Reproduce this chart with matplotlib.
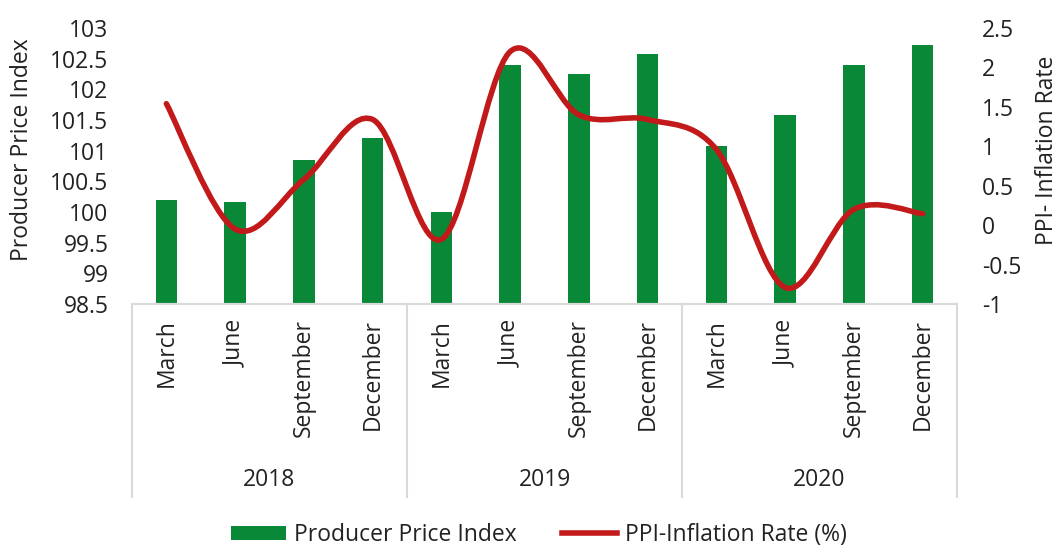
import matplotlib.pyplot as plt
from matplotlib.path import Path
from matplotlib.patches import PathPatch, Patch
from matplotlib.lines import Line2D
from matplotlib.transforms import blended_transform_factory

plt.rcParams["font.family"] = ["Open Sans", "DejaVu Sans"]

months = ["March", "June", "September", "December"] * 3
years = ["2018", "2019", "2020"]
ppi = [100.2, 100.17, 100.84, 101.2, 100.0, 102.39,
       102.25, 102.58, 101.07, 101.58, 102.4, 102.73]
inflation = [1.54, -0.05, 0.58, 1.34, -0.18, 2.2,
             1.4, 1.34, 0.96, -0.79, 0.2, 0.145]

green = "#098938"
red = "#C21A1A"
grey = "#D9D9D9"
txt = "#222222"
fs = 16.5

fig = plt.figure(figsize=(10.6, 5.45), dpi=100)
ax = fig.add_axes([132 / 1060, 1 - 304 / 545, 825 / 1060, 276 / 545])
ax2 = ax.twinx()

x = list(range(len(ppi)))
ax.bar(x, ppi, width=0.31, color=green, zorder=2)
ax.set_xlim(-0.5, len(ppi) - 0.5)
ax.set_ylim(98.5, 103)
ax.set_yticks([98.5 + 0.5 * i for i in range(10)])
ax.set_yticklabels([f"{98.5 + 0.5 * i:g}" for i in range(10)])

# smooth line like Excel (Catmull-Rom -> cubic Bezier)
pts = list(zip(x, inflation))
verts = [pts[0]]
codes = [Path.MOVETO]
n = len(pts)
for i in range(n - 1):
    p0 = pts[i - 1] if i > 0 else pts[i]
    p1 = pts[i]
    p2 = pts[i + 1]
    p3 = pts[i + 2] if i + 2 < n else pts[i + 1]
    c1 = (p1[0] + (p2[0] - p0[0]) / 6, p1[1] + (p2[1] - p0[1]) / 6)
    c2 = (p2[0] - (p3[0] - p1[0]) / 6, p2[1] - (p3[1] - p1[1]) / 6)
    verts += [c1, c2, p2]
    codes += [Path.CURVE4] * 3
ax2.add_patch(PathPatch(Path(verts, codes), facecolor="none", edgecolor=red,
                        lw=4, capstyle="round", joinstyle="round", zorder=3))
ax2.set_ylim(-1, 2.5)
ax2.set_yticks([-1 + 0.5 * i for i in range(8)])
ax2.set_yticklabels([f"{-1 + 0.5 * i:g}" for i in range(8)])

for a in (ax, ax2):
    for s in ["top", "left", "right"]:
        a.spines[s].set_visible(False)
    a.spines["bottom"].set_color(grey)
    a.spines["bottom"].set_linewidth(1.5)
ax.tick_params(axis="y", length=0, pad=17, labelsize=fs, labelcolor=txt)
ax2.tick_params(axis="y", length=0, pad=18, labelsize=fs, labelcolor=txt)

ax.set_xticks(x)
ax.set_xticklabels(months, rotation=90, fontsize=fs, color=txt)
ax.tick_params(axis="x", length=0, pad=11)

# year groups and separators
tr = blended_transform_factory(ax.transData, ax.transAxes)
for b in [-0.5, 3.5, 7.5, 11.5]:
    ax.plot([b, b], [0, -193 / 276], transform=tr, color=grey, lw=1.5,
            clip_on=False)
for i, yr in enumerate(years):
    ax.text(4 * i + 1.5, -176 / 276, yr, transform=tr, ha="center",
            va="center", fontsize=fs, color=txt)

fig.text(22 / 1060, 1 - 150 / 545, "Producer Price Index", rotation=90,
         ha="center", va="center", fontsize=fs, color=txt)
fig.text(1047 / 1060, 1 - 150 / 545, "PPI- Inflation Rate", rotation=90,
         ha="center", va="center", fontsize=fs, color=txt)

handles = [Patch(facecolor=green, label="Producer Price Index"),
           Line2D([0], [0], color=red, lw=4, label="PPI-Inflation Rate (%)")]
fig.legend(handles=handles, loc="center", bbox_to_anchor=(539 / 1060, 1 - 535 / 545),
           ncol=2, frameon=False, fontsize=fs, handlelength=2.4,
           handleheight=0.6, handletextpad=0.35, columnspacing=2.0,
           labelcolor=txt)

fig.savefig("out.png", dpi=100)
